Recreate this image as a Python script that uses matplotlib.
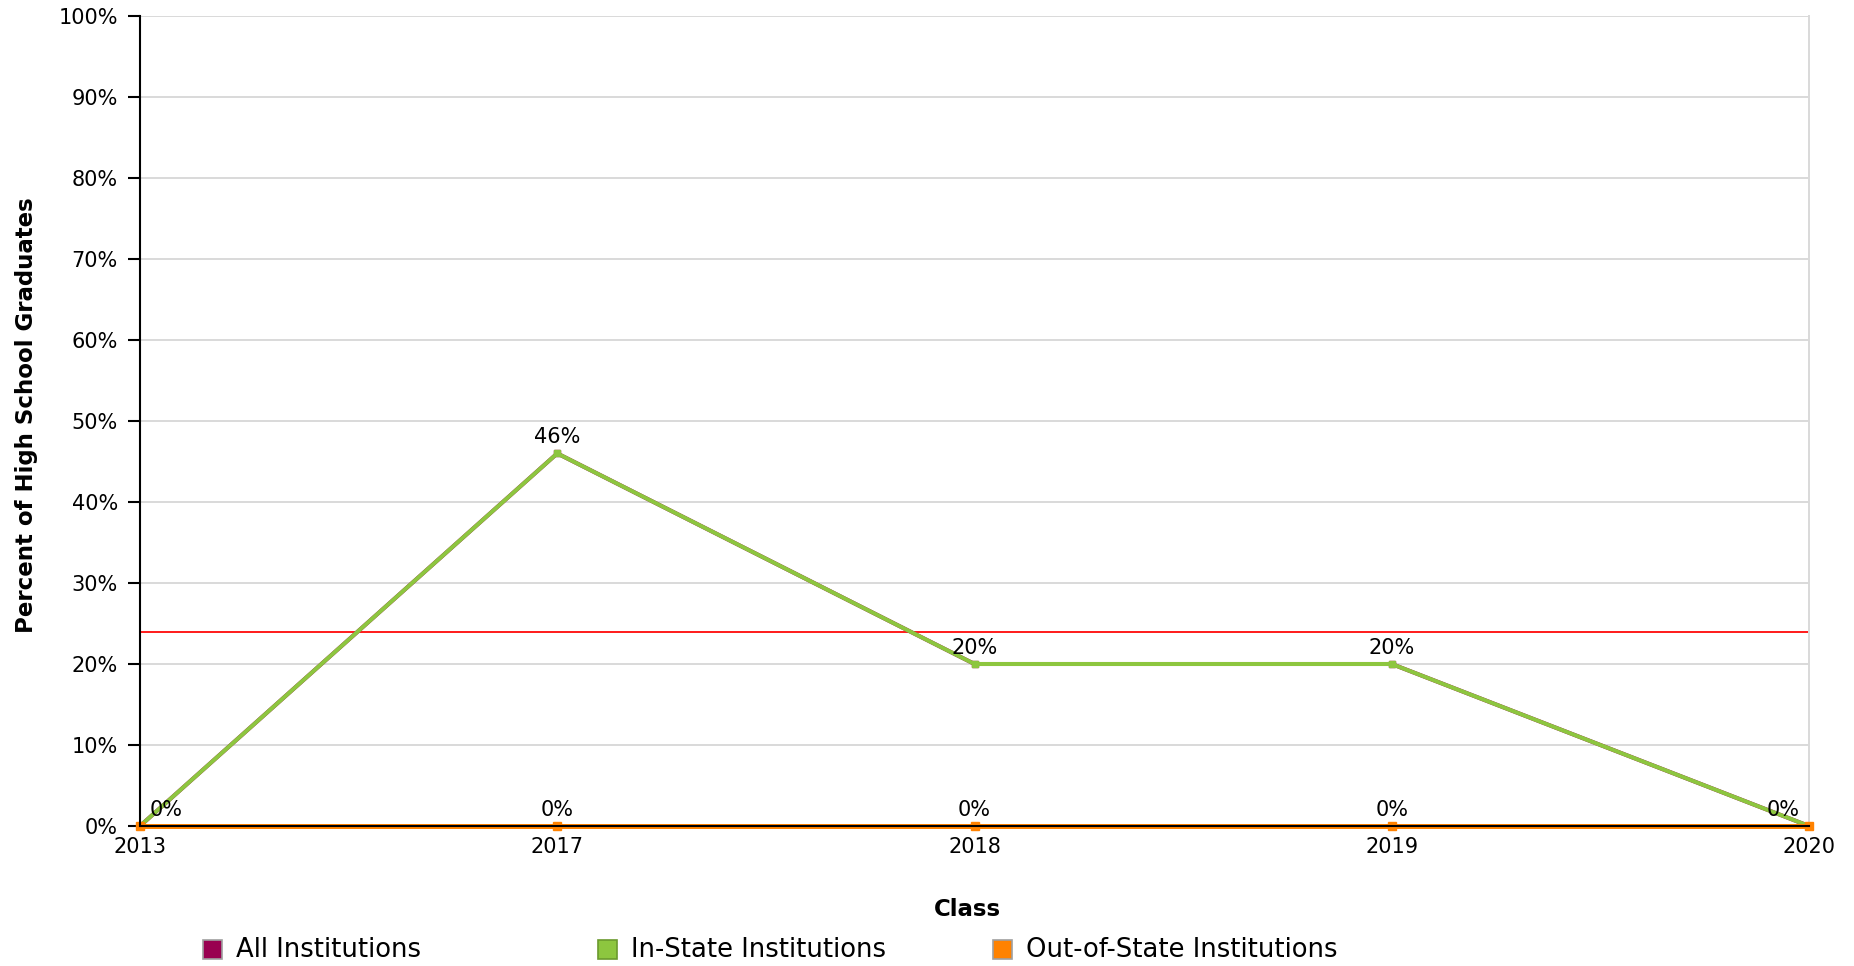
import matplotlib
matplotlib.use("Agg")
import matplotlib.pyplot as plt
from matplotlib.patches import Rectangle
from matplotlib.ticker import FuncFormatter

# datos
clases = ["2013", "2017", "2018", "2019", "2020"]
todas = [0, 46, 20, 20, 0]
en_estado = [0, 46, 20, 20, 0]
fuera_estado = [0, 0, 0, 0, 0]
referencia = 24

series = ["All Institutions", "In-State Institutions", "Out-of-State Institutions"]
colores = ["#990050", "#8dc63f", "#ff8200"]
bordes = ["#a0a0a0", "#6b9a2e", "#a0a0a0"]

W, H = 1854, 966


def etiqueta(ax, x, y, dx, ha):
    ax.annotate(f"{y:g}%", (x, y), xytext=(dx, 10), textcoords="offset pixels",
                ha=ha, va="baseline", fontsize=15, zorder=7, annotation_clip=False)


def main():
    fig = plt.figure(figsize=(W / 100, H / 100), dpi=100)
    ax = fig.add_axes([140 / W, 1 - 826 / H, 1669 / W, 810 / H])
    x = list(range(len(clases)))

    ax.set_xlim(0, len(clases) - 1)
    ax.set_ylim(0, 100)
    ax.set_yticks(range(0, 101, 10))
    ax.yaxis.set_major_formatter(FuncFormatter(lambda v, p: f"{v:.0f}%"))
    ax.set_xticks(x)
    ax.set_xticklabels(clases)
    ax.grid(axis="y", color="#d9d9d9", linewidth=1.4, zorder=0)
    ax.set_axisbelow(True)

    ax.tick_params(axis="y", length=9, width=1.5, pad=7, labelsize=15, color="black")
    ax.tick_params(axis="x", length=0, pad=8, labelsize=15)

    for lado in ["left", "bottom"]:
        ax.spines[lado].set_color("black")
        ax.spines[lado].set_linewidth(1.5)
        ax.spines[lado].set_zorder(6)
    ax.spines["top"].set_visible(False)
    ax.spines["right"].set_color("#d9d9d9")
    ax.spines["right"].set_linewidth(1.4)

    ax.axhline(referencia, color="#ff1a1a", linewidth=1.4, zorder=2)

    ax.plot(x, todas, color=colores[0], linewidth=2.9, marker="s", markersize=4.5,
            zorder=3, clip_on=False)
    ax.plot(x, en_estado, color=colores[1], linewidth=2.9, marker="s", markersize=4.5,
            zorder=4, clip_on=False)
    ax.plot(x, fuera_estado, color=colores[2], linewidth=3.6, marker="s", markersize=6,
            zorder=5, clip_on=False)

    for i, v in enumerate(en_estado):
        if i == 0:
            etiqueta(ax, i, v, 10, "left")
        elif i == len(clases) - 1:
            etiqueta(ax, i, v, -9, "right")
        else:
            etiqueta(ax, i, v, 0, "center")
    for i, v in enumerate(fuera_estado[1:-1], start=1):
        etiqueta(ax, i, v, 0, "center")

    ax.set_xlabel("Class", fontsize=16.5, fontweight="bold", va="center")
    ax.xaxis.set_label_coords((967 - 140) / 1669, (826 - 910) / 810)
    ax.set_ylabel("Percent of High School Graduates", fontsize=16.5,
                  fontweight="bold", va="center")
    ax.yaxis.set_label_coords((27 - 140) / 1669, (826 - 415) / 810)

    # leyenda a mano
    for i, nombre in enumerate(series):
        x0 = 203 + 395 * i
        fig.add_artist(Rectangle((x0 / W, 1 - 959 / H), 19 / W, 19 / H,
                                 transform=fig.transFigure, facecolor=colores[i],
                                 edgecolor=bordes[i], linewidth=1.2))
        fig.text((x0 + 33) / W, 1 - 950 / H, nombre, fontsize=18.6,
                 ha="left", va="center")

    fig.savefig("out.png", dpi=100)


main()
